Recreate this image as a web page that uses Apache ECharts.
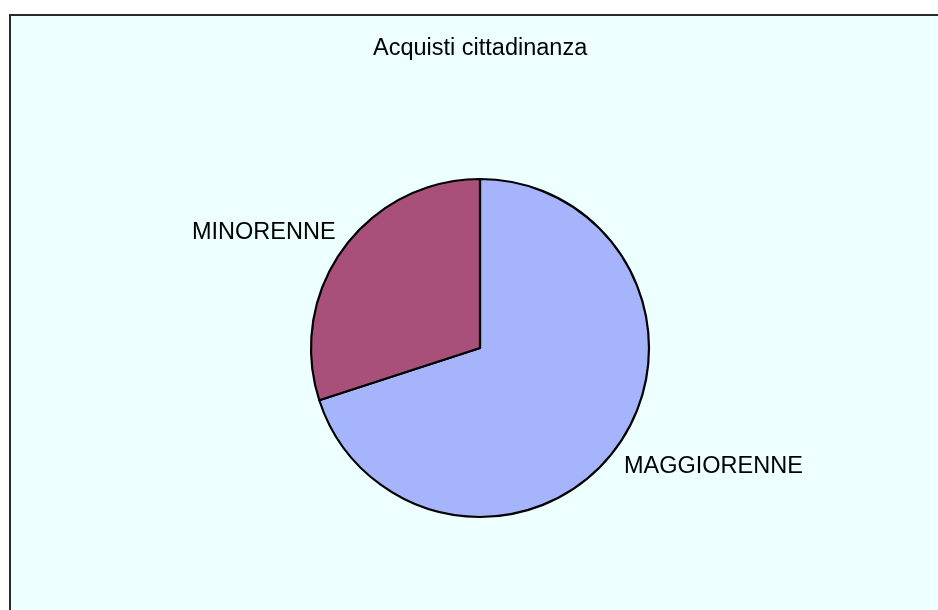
<!DOCTYPE html>
<html>
<head>
<meta charset="utf-8">
<script src="https://cdn.jsdelivr.net/npm/echarts@6/dist/echarts.min.js"></script>
<style>
html,body{margin:0;padding:0;background:#ffffff;}
#chart{width:938px;height:610px;}
</style>
</head>
<body>
<div id="chart"></div>
<script>
const titleText = "Acquisti cittadinanza";
const categories = ["MAGGIORENNE", "MINORENNE"];
const values = [70, 30];
const colors = ["#a6b4fb", "#a8507a"];

const labelPos = [
  { x: 624, y: 467, align: 'left' },
  { x: 192, y: 233, align: 'left' }
];

const chart = echarts.init(document.getElementById('chart'), null, { renderer: 'canvas' });
chart.setOption({
  animation: false,
  backgroundColor: '#ffffff',
  graphic: [{
    type: 'rect',
    z: -10,
    shape: { x: 10, y: 15, width: 940, height: 610 },
    style: { fill: '#eeffff', stroke: '#2a2a2a', lineWidth: 2 }
  }],
  title: {
    text: titleText,
    left: 368,
    top: 32,
    textStyle: { fontFamily: 'Liberation Sans, Arial, sans-serif', fontSize: 23.5, fontWeight: 'normal', color: '#000000' }
  },
  series: [{
    type: 'pie',
    center: [480, 348],
    radius: [0, 169],
    startAngle: 90,
    clockwise: true,
    silent: true,
    data: categories.map((c, i) => ({ name: c, value: values[i], itemStyle: { color: colors[i] } })),
    itemStyle: { borderColor: '#000000', borderWidth: 2.2 },
    label: {
      show: true,
      position: 'outside',
      formatter: '{b}',
      fontFamily: 'Liberation Sans, Arial, sans-serif',
      fontSize: 23.5,
      color: '#000000'
    },
    labelLine: { show: false },
    labelLayout: function (params) {
      const p = labelPos[params.dataIndex];
      return { x: p.x, y: p.y, align: p.align, verticalAlign: 'middle' };
    }
  }]
});
</script>
</body>
</html>
